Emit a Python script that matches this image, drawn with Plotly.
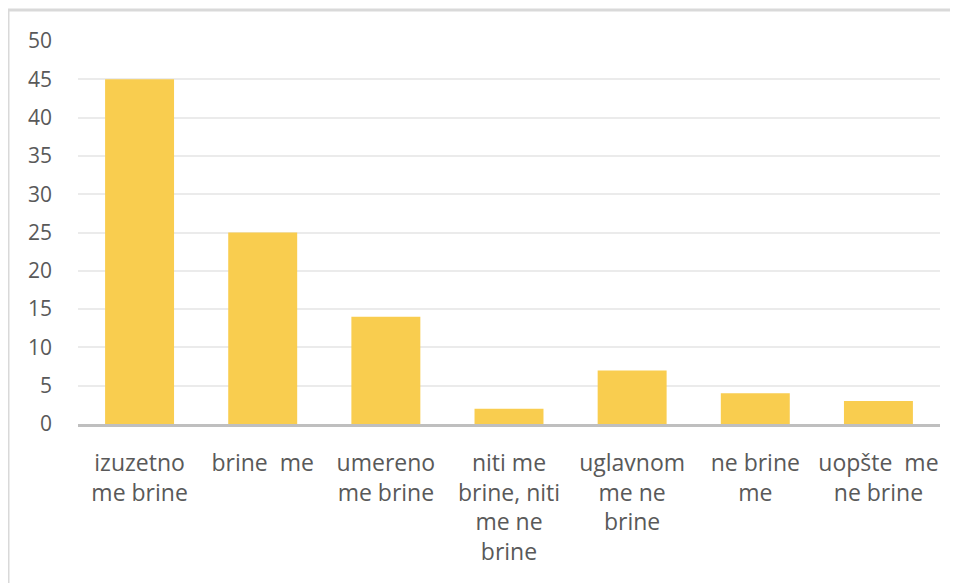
import plotly.graph_objects as go

categories = [
    "izuzetno<br>me brine",
    "brine  me",
    "umereno<br>me brine",
    "niti me<br>brine, niti<br>me ne<br>brine",
    "uglavnom<br>me ne<br>brine",
    "ne brine<br>me",
    "uopšte  me<br>ne brine",
]
values = [45, 25, 14, 2, 7, 4, 3]
y_ticks = [0, 5, 10, 15, 20, 25, 30, 35, 40, 45, 50]

fig = go.Figure(
    go.Bar(
        x=categories,
        y=values,
        marker=dict(color="#F9CD4F", line=dict(width=0)),
        hoverinfo="x+y",
    )
)

fig.update_layout(
    width=950,
    height=575,
    margin=dict(l=70, r=18, t=33, b=159),
    paper_bgcolor="white",
    plot_bgcolor="white",
    bargap=0.44,
    showlegend=False,
    font=dict(family="Open Sans, Liberation Sans, sans-serif", color="#595959"),
    shapes=[
        dict(type="line", xref="paper", yref="paper", x0=-0.0812, x1=1.03,
             y0=1.081, y1=1.081, line=dict(color="#D9D9D9", width=3)),
        dict(type="line", xref="paper", yref="paper", x0=-0.0812, x1=-0.0812,
             y0=1.081, y1=-0.45, line=dict(color="#D9D9D9", width=3)),
    ],
)

fig.update_yaxes(
    range=[0, 50],
    tickvals=y_ticks,
    showgrid=True,
    gridcolor="#EBEBEB",
    gridwidth=1.5,
    zeroline=False,
    showline=False,
    ticks="",
    tickfont=dict(size=21, color="#595959"),
    ticklabelstandoff=25,
)

fig.update_xaxes(
    showline=True,
    linecolor="#BFBFBF",
    linewidth=3,
    ticks="",
    tickangle=0,
    tickfont=dict(size=23, color="#595959"),
    ticklabelstandoff=16,
)

fig.write_html("out.html")
